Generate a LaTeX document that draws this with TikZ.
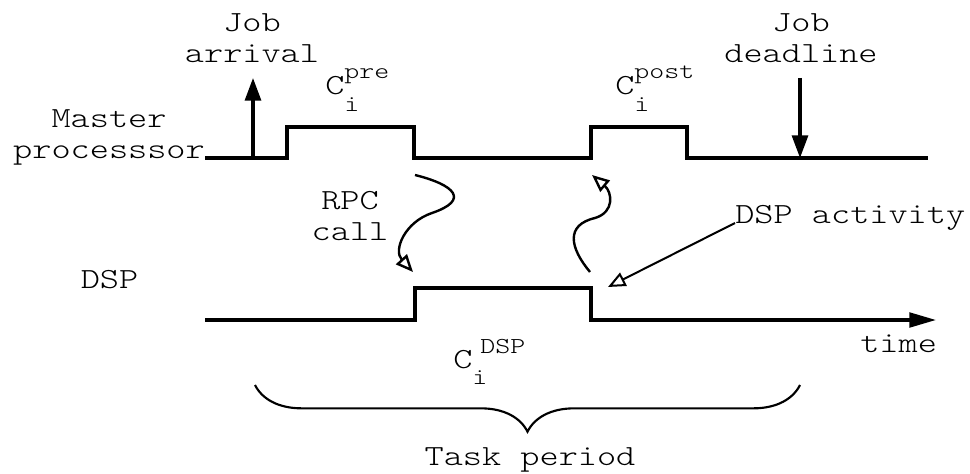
\documentclass[tikz,border=0pt]{standalone}
\usepackage{fontspec}
\setmainfont{lmmonolt10-regular.otf}[FakeStretch=1.25]
\usetikzlibrary{arrows.meta,decorations.pathreplacing}

\newcommand{\supfont}{\fontsize{17.1}{19}\selectfont}
\newcommand{\costlbl}[3][0pt]{C\rlap{\kern#1\raisebox{#2}{\supfont #3}}\raisebox{-12.5pt}{\supfont i}}

\begin{document}
\begin{tikzpicture}[x=0.75pt,y=-0.75pt,
    every node/.style={font=\fontsize{21.9}{23.25}\selectfont,inner sep=0pt},
    timeline/.style={line width=2.4pt,line join=miter},
    marker/.style={line width=2.3pt,-{Triangle[length=17pt,width=12pt]}},
    signal/.style={line width=1.8pt,-{Triangle[open,length=13pt,width=11pt]}},
    lbl/.style={align=center,anchor=base}]
  \useasboundingbox (0,0) rectangle (970,474);
  % Master processor timeline
  \node[lbl] (master) at (109,159) {Master\\processsor};
  \draw[timeline] (205,158) -- (287,158) -- (287,127) -- (414,127) -- (414,158)
     -- (591,158) -- (591,127) -- (687,127) -- (687,158) -- (928,158);
  \node[anchor=base west] (cpre) at (325,95) {\costlbl{12.5pt}{pre}};
  \node[anchor=base west] (cpost) at (615,95) {\costlbl{12.5pt}{post}};
  % Job arrival and deadline
  \node[lbl] (arrival) at (252,63) {Job\\arrival};
  \node[lbl] (deadline) at (801,63) {Job\\deadline};
  \coordinate (arrivebase) at (253,158);
  \coordinate (arrivetip) at (253,78);
  \coordinate (deadtop) at (800,78);
  \coordinate (deadbase) at (800,158);
  \draw[marker] (arrivebase) -- (arrivetip);
  \draw[marker] (deadtop) -- (deadbase);
  % DSP timeline
  \node[lbl] (dsp) at (109.5,288) {DSP};
  \draw[timeline,-{Triangle[length=20pt,width=11pt]}] (205,320) -- (415,320)
     -- (415,288) -- (591,288) -- (591,320) -- (936,320);
  \node[anchor=base west] (cdsp) at (453,368) {\costlbl[6pt]{11.25pt}{DSP}};
  \node[anchor=base west] (time) at (860,352) {time};
  % RPC call and return
  \node[lbl] (rpc) at (350,240) {RPC\\call};
  \coordinate (callout) at (415,175);
  \coordinate (callin) at (413,272);
  \coordinate (retout) at (590,272);
  \coordinate (retin) at (592,175);
  \draw[signal] (callout) .. controls (455,185) and (470,200) .. (432,213)
     .. controls (405,222) and (393,250) .. (callin);
  \draw[signal] (retout) .. controls (570,248) and (565,225) .. (595,218)
     .. controls (615,212) and (612,192) .. (retin);
  % DSP activity pointer
  \node[anchor=base west] (activity) at (735,223) {DSP activity};
  \coordinate (activitytip) at (608,287);
  \draw[signal,line width=1.5pt] (activity.base west) -- (activitytip);
  % Task period brace
  \draw[line width=1.6pt,decorate,decoration={brace,mirror,amplitude=35pt}]
     (255,385) -- (800,385);
  \node[lbl] (period) at (530,465) {Task period};
\end{tikzpicture}
\end{document}
